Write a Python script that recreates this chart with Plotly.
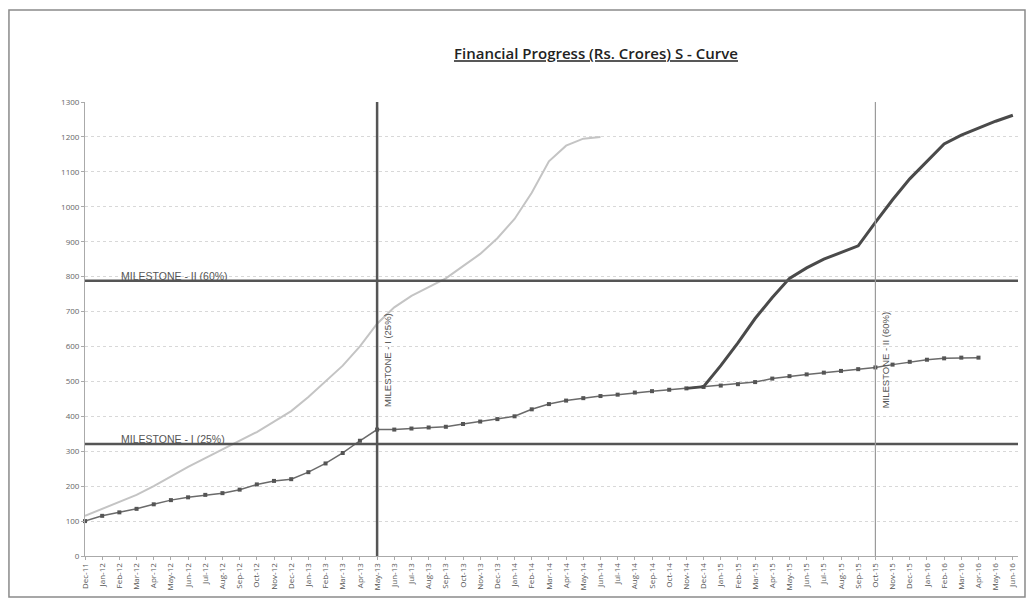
import plotly.graph_objects as go

month_names = ["Jan", "Feb", "Mar", "Apr", "May", "Jun", "Jul", "Aug", "Sep", "Oct", "Nov", "Dec"]
# month labels Dec-11 .. Jun-16 (55 months)
categories = []
for k in range(55):
    idx = 11 + k
    categories.append(f"{month_names[idx % 12]}-{11 + idx // 12}")

planned = [115, 135, 155, 175, 200, 228, 255, 280, 305, 330, 355, 385, 415, 455, 500, 545, 600,
           665, 712, 745, 770, 795, 830, 865, 910, 965, 1040, 1130, 1175, 1195, 1200]

actual = [100, 115, 125, 135, 148, 160, 168, 175, 180, 190, 205, 215, 220, 240, 265, 295, 330,
          362, 362, 365, 368, 370, 378, 385, 392, 400, 420, 435, 445, 452, 458, 462, 468, 472,
          476, 480, 484, 488, 492, 498, 508, 515, 520, 525, 530, 535, 540, 548, 556, 562, 566,
          568, 568]

revised_start = 35
revised = [480, 485, 545, 610, 680, 740, 795, 825, 850, 870, 888, 955, 1020, 1080, 1130, 1180,
           1205, 1225, 1245, 1262]

milestone_h_values = [321, 788]
milestone_h_labels = ["MILESTONE - I (25%)", "MILESTONE - II (60%)"]
milestone_v_cats = [17, 46]
milestone_v_labels = ["MILESTONE - I (25%)", "MILESTONE - II (60%)"]

n = len(categories)
planned_full = planned + [None] * (n - len(planned))
actual_full = actual + [None] * (n - len(actual))
revised_full = [None] * revised_start + revised + [None] * (n - revised_start - len(revised))

fig = go.Figure()
fig.add_trace(go.Scatter(x=categories, y=planned_full, mode="lines",
                         line=dict(color="#c4c4c4", width=2), cliponaxis=False, showlegend=False))
fig.add_trace(go.Scatter(x=categories, y=actual_full, mode="lines+markers",
                         line=dict(color="#6a6a6a", width=1.5),
                         marker=dict(symbol="square", size=4, color="#555555"),
                         cliponaxis=False, showlegend=False))
fig.add_trace(go.Scatter(x=categories, y=revised_full, mode="lines",
                         line=dict(color="#4a4a4a", width=3), cliponaxis=False, showlegend=False))

label_font = dict(size=10.5, color="#555555", family="Liberation Sans, Arial, sans-serif")
shapes = []
annotations = []
for v, lab in zip(milestone_h_values, milestone_h_labels):
    shapes.append(dict(type="line", xref="paper", x0=0, x1=1, yref="y", y0=v, y1=v,
                       line=dict(color="#555555", width=2.5)))
    annotations.append(dict(x=2, y=v, xref="x", yref="y", text=lab, showarrow=False,
                            xanchor="left", yanchor="bottom", yshift=-3, font=label_font))
for i, (c, lab) in enumerate(zip(milestone_v_cats, milestone_v_labels)):
    shapes.append(dict(type="line", xref="x", x0=c, x1=c, yref="paper", y0=0, y1=1,
                       line=dict(color="#555555" if i == 0 else "#9a9a9a",
                                 width=2.5 if i == 0 else 1.2)))
    annotations.append(dict(x=c, y=560, xref="x", yref="y", text=lab, showarrow=False,
                            textangle=-90, xanchor="left", xshift=3,
                            font=dict(size=9.5, color="#555555",
                                      family="Liberation Sans, Arial, sans-serif")))

# outer chart border
shapes.append(dict(type="rect", xref="paper", yref="paper", x0=-0.0815, x1=1.0075,
                   y0=-0.0903, y1=1.2026, line=dict(color="#8a8a8a", width=1.5)))

fig.update_layout(
    width=1018, height=590,
    margin=dict(l=77, r=8, t=94, b=42),
    paper_bgcolor="white", plot_bgcolor="white",
    title=dict(text="<u>Financial Progress (Rs. Crores) S - Curve</u>", x=596 / 1018 - 8 / 1018,
               xanchor="center", y=1 - 46 / 590, yanchor="middle",
               font=dict(size=15, color="#222222", weight=600,
                         family="Open Sans, sans-serif")),
    shapes=shapes, annotations=annotations,
    xaxis=dict(type="category", categoryorder="array", categoryarray=categories,
               range=[0, 54.3], tickangle=-90, tickfont=dict(size=8, color="#555555"),
               showgrid=False, showline=True, linecolor="#aaaaaa", ticks="outside", ticklen=3,
               tickcolor="#aaaaaa", zeroline=False),
    yaxis=dict(range=[0, 1300], dtick=100, tickfont=dict(size=8, color="#666666"),
               showgrid=True, gridcolor="#d8d8d8", griddash="dot", gridwidth=1,
               showline=True, linecolor="#aaaaaa", zeroline=False, ticks="outside", ticklen=3,
               tickcolor="#aaaaaa"),
)

fig.write_html("out.html")
